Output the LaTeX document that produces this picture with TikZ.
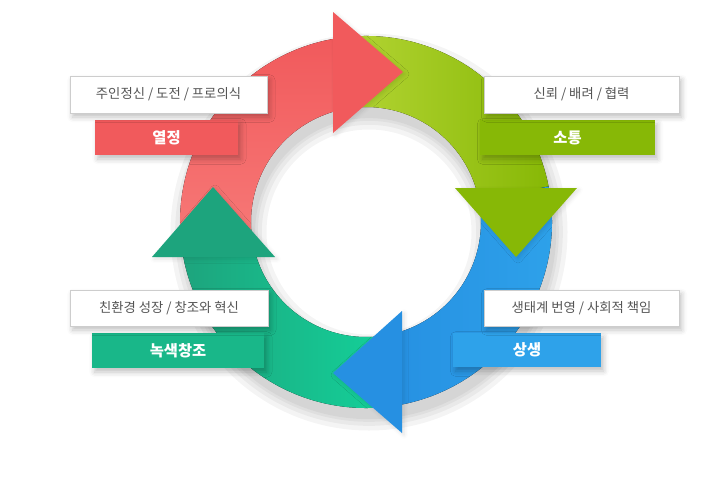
\documentclass[tikz,border=0pt]{standalone}
\usepackage{fontspec}
\newfontfamily\krfont{Noto Sans CJK KR}
\usetikzlibrary{shadows.blur}

\definecolor{passred}{HTML}{F15A5C}
\definecolor{passredlight}{HTML}{F77B79}
\definecolor{talkgreen}{HTML}{87B806}
\definecolor{talkgreenlight}{HTML}{B6D636}
\definecolor{winblue}{HTML}{2EA2EA}
\definecolor{winbluedark}{HTML}{2690E2}
\definecolor{ecoteal}{HTML}{1DA47D}
\definecolor{ecoteallight}{HTML}{13D49B}
\definecolor{boxline}{HTML}{CDCDCD}
\definecolor{boxtextgray}{HTML}{555555}

\tikzset{every picture/.style={line width=0.75pt},
  softshadow/.style={blur shadow={shadow xshift=2pt, shadow yshift=-3pt, shadow blur radius=4pt, shadow opacity=25}},
  headshadow/.style={blur shadow={shadow xshift=1.5pt, shadow yshift=-1.5pt, shadow blur radius=3pt, shadow opacity=12}},
  valuebox/.style={fill=white, draw=boxline, line width=0.75pt, softshadow},
  banner/.style={softshadow},
  boxlabel/.style={text=boxtextgray, font=\krfont\fontsize{10}{12}\selectfont, inner sep=0.75pt},
  bannerlabel/.style={text=white, font=\krfont\bfseries\fontsize{11.5}{13}\selectfont, inner sep=0.75pt},
}

\begin{document}
\begin{tikzpicture}[x=0.75pt,y=0.75pt,yscale=-1,xscale=1]
\useasboundingbox (0,0) rectangle (720,489);
\coordinate (c) at (366,222);

%Shadow under the ring
\foreach \w in {72pt,65pt,59pt,55pt}
  \draw [black, opacity=0.045, line width=\w] ([shift={(3,10)}]c) circle [radius=150.5];

%Shape: Arc [red body]
\fill [top color=passred, bottom color=passredlight] ([shift={(169:186)}]c) arc [start angle=169, end angle=261, radius=186] -- ([shift={(261:115)}]c) arc [start angle=261, end angle=169, radius=115] -- cycle;
%Shape: Arc [green body]
\fill [left color=talkgreenlight, right color=talkgreen] ([shift={(260:186)}]c) arc [start angle=260, end angle=350, radius=186] -- ([shift={(350:115)}]c) arc [start angle=350, end angle=260, radius=115] -- cycle;
%Shape: Arc [blue body]
\fill [left color=winbluedark, right color=winblue] ([shift={(-11:186)}]c) arc [start angle=-11, end angle=80, radius=186] -- ([shift={(80:115)}]c) arc [start angle=80, end angle=-11, radius=115] -- cycle;
%Shape: Arc [teal body]
\fill [left color=ecoteal, right color=ecoteallight] ([shift={(79:186)}]c) arc [start angle=79, end angle=170, radius=186] -- ([shift={(170:115)}]c) arc [start angle=170, end angle=79, radius=115] -- cycle;

%Shape: Triangle [red head]
\fill [passred, headshadow] (333,12) -- (403,72) -- (333,133) -- cycle ;
%Shape: Triangle [green head]
\fill [talkgreen, headshadow] (577,188) -- (516,257) -- (455,188) -- cycle ;
%Shape: Triangle [blue head]
\fill [winbluedark, headshadow] (402,433) -- (333,373) -- (402,311) -- cycle ;
%Shape: Triangle [teal head]
\fill [ecoteal, headshadow] (152,257) -- (213,187) -- (275,257) -- cycle ;

%Shape: Rectangle [banners]
\fill [passred, banner] (95,120) rectangle (238,155) ;
\fill [talkgreen, banner] (480,120) rectangle (655,155) ;
\fill [ecoteal!60!ecoteallight, banner] (92,333) rectangle (264,368) ;
\fill [winblue, banner] (453,333) rectangle (601,367) ;

%Shape: Rectangle [value boxes]
\draw [valuebox] (70,76) rectangle (267,113) ;
\draw [valuebox] (484,76) rectangle (679,113) ;
\draw [valuebox] (70,290) rectangle (268,326) ;
\draw [valuebox] (484,290) rectangle (679,326) ;

% Text Node
\node [boxlabel] (passvalue) at (168.5,94.5) {주인정신 / 도전 / 프로의식};
% Text Node
\node [bannerlabel] (passtitle) at (166.5,137.5) {열정};
% Text Node
\node [boxlabel] (talkvalue) at (581.5,94.5) {신뢰 / 배려 / 협력};
% Text Node
\node [bannerlabel] (talktitle) at (567.5,137.5) {소통};
% Text Node
\node [boxlabel] (ecovalue) at (169,308) {친환경 성장 / 창조와 혁신};
% Text Node
\node [bannerlabel] (ecotitle) at (178,350.5) {녹색창조};
% Text Node
\node [boxlabel] (winvalue) at (581.5,308) {생태계 번영 / 사회적 책임};
% Text Node
\node [bannerlabel] (wintitle) at (527,350) {상생};

\end{tikzpicture}
\end{document}
